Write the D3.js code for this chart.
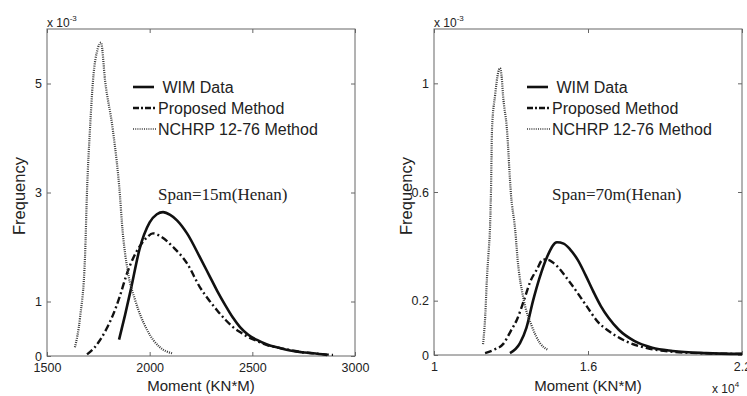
<!DOCTYPE html>
<html>
<head>
<meta charset="utf-8">
<script src="https://cdn.jsdelivr.net/npm/d3@7/dist/d3.min.js"></script>
<style>
  body { margin: 0; background: #fff; }
  svg { display: block; }
</style>
</head>
<body>
<div id="chart-container"></div>
<script>
// Span = 15 m : moment (KN*M) vs frequency (x 1e-3)
const wim15 = [
    [1851, 0.30], [1880, 0.75], [1910, 1.25], [1950, 1.95], [2000, 2.45], [2035, 2.60],
    [2065, 2.64], [2100, 2.59], [2133, 2.49], [2182, 2.25], [2245, 1.81], [2290, 1.48],
    [2328, 1.20], [2370, 0.92], [2406, 0.70], [2440, 0.53], [2480, 0.39], [2525, 0.29],
    [2572, 0.21], [2630, 0.15], [2684, 0.10], [2740, 0.07], [2796, 0.05], [2864, 0.02]
];
const proposed15 = [
    [1695, 0.03], [1730, 0.15], [1758, 0.29], [1790, 0.50], [1821, 0.75], [1855, 1.10],
    [1890, 1.52], [1920, 1.80], [1953, 2.02], [1985, 2.17], [2016, 2.25], [2060, 2.18],
    [2114, 2.00], [2182, 1.70], [2245, 1.26], [2290, 1.02], [2328, 0.84], [2370, 0.66],
    [2406, 0.53], [2440, 0.44], [2474, 0.36], [2520, 0.28], [2572, 0.20], [2630, 0.15],
    [2684, 0.11], [2740, 0.07], [2796, 0.05], [2850, 0.03], [2893, 0.02]
];
const nchrp15 = [
    [1636, 0.16], [1661, 0.71], [1685, 1.81], [1695, 3.04], [1709, 4.14], [1724, 5.05],
    [1748, 5.65], [1763, 5.75], [1783, 5.05], [1821, 4.14], [1856, 2.91], [1865, 2.44],
    [1895, 1.52], [1929, 1.03], [1987, 0.48], [2050, 0.16], [2109, 0.05]
];

// Span = 70 m : moment (x 1e4 KN*M) vs frequency (x 1e-3)
const wim70 = [
    [1.296, 0.007], [1.335, 0.044], [1.360, 0.10], [1.386, 0.20], [1.410, 0.28], [1.440, 0.36],
    [1.479, 0.415], [1.505, 0.41], [1.530, 0.389], [1.560, 0.35], [1.590, 0.295], [1.620, 0.235],
    [1.650, 0.18], [1.680, 0.137], [1.720, 0.093], [1.780, 0.052], [1.850, 0.027], [1.930, 0.015],
    [2.060, 0.007], [2.200, 0.004]
];
const proposed70 = [
    [1.199, 0.007], [1.235, 0.02], [1.269, 0.04], [1.300, 0.09], [1.323, 0.13], [1.350, 0.20],
    [1.375, 0.27], [1.401, 0.315], [1.425, 0.352], [1.445, 0.35], [1.464, 0.34], [1.530, 0.267],
    [1.596, 0.178], [1.640, 0.12], [1.674, 0.093], [1.736, 0.056], [1.830, 0.025], [1.930, 0.012],
    [2.060, 0.006], [2.200, 0.004]
];
const nchrp70 = [
    [1.191, 0.04], [1.200, 0.15], [1.206, 0.278], [1.212, 0.37], [1.218, 0.463], [1.222, 0.60],
    [1.226, 0.833], [1.238, 0.956], [1.250, 1.04], [1.257, 1.056], [1.264, 1.02], [1.269, 0.956],
    [1.284, 0.833], [1.300, 0.59], [1.316, 0.463], [1.327, 0.34], [1.347, 0.215], [1.382, 0.104],
    [1.413, 0.044], [1.444, 0.019]
];

// axis ticks
const xTicks15 = [1500, 2000, 2500, 3000];
const yTicks15 = [0, 1, 3, 5];
const xTicks70 = [1, 1.6, 2.2];
const yTicks70 = [0, 0.2, 0.6, 1];

const legendLabels = [" WIM Data", "Proposed Method", "NCHRP 12-76 Method"];

const W = 747, H = 396;
const sans = "'Liberation Sans', Arial, sans-serif";
const serif = "'Liberation Serif', 'Times New Roman', serif";

const svg = d3.select("#chart-container")
    .append("svg")
    .attr("width", W)
    .attr("height", H);

const styles = [
    { color: "#111", width: 2.6, dash: null },
    { color: "#111", width: 2.4, dash: "7,3,2,3" },
    { color: "#3a3a3a", width: 2.2, dash: "1,1.2" }
];

function drawPanel(p) {
    const x = d3.scaleLinear().domain(p.xDomain).range([p.left, p.right]);
    const y = d3.scaleLinear().domain(p.yDomain).range([p.bottom, p.top]);
    const g = svg.append("g");

    // box
    g.append("rect")
        .attr("x", p.left).attr("y", p.top)
        .attr("width", p.right - p.left).attr("height", p.bottom - p.top)
        .attr("fill", "none").attr("stroke", "#666").attr("stroke-width", 1);

    const fmt = d => String(d);

    g.append("g")
        .attr("transform", "translate(0," + p.bottom + ")")
        .call(d3.axisBottom(x).tickValues(p.xTicks).tickSize(-4).tickPadding(7).tickFormat(fmt));
    g.append("g")
        .attr("transform", "translate(" + p.left + ",0)")
        .call(d3.axisLeft(y).tickValues(p.yTicks).tickSize(-4).tickPadding(5).tickFormat(fmt));
    g.append("g")
        .attr("transform", "translate(0," + p.top + ")")
        .call(d3.axisTop(x).tickValues(p.xTicks).tickSize(-4).tickFormat(""));
    g.append("g")
        .attr("transform", "translate(" + p.right + ",0)")
        .call(d3.axisRight(y).tickValues(p.yTicks).tickSize(-4).tickFormat(""));

    g.selectAll(".domain").remove();
    g.selectAll(".tick line").attr("stroke", "#666");
    g.selectAll(".tick text")
        .attr("font-family", sans).attr("font-size", 12.5).attr("fill", "#222");

    // curves
    const line = d3.line()
        .x(d => x(d[0]))
        .y(d => y(d[1]))
        .curve(d3.curveMonotoneX);

    p.series.forEach((s, i) => {
        g.append("path")
            .datum(s)
            .attr("d", line)
            .attr("fill", "none")
            .attr("stroke", styles[i].color)
            .attr("stroke-width", styles[i].width)
            .attr("stroke-dasharray", styles[i].dash)
            .attr("stroke-linejoin", "round");
    });

    // exponent label on y axis
    const ex = g.append("text")
        .attr("x", p.left).attr("y", 27)
        .attr("font-family", sans).attr("font-size", 12).attr("fill", "#222");
    ex.append("tspan").text("x 10");
    ex.append("tspan").attr("font-size", 8).attr("dy", -6).text("-3");

    // axis titles
    g.append("text")
        .attr("x", (p.left + p.right) / 2).attr("y", 391)
        .attr("text-anchor", "middle")
        .attr("font-family", sans).attr("font-size", 15).attr("fill", "#222")
        .text("Moment (KN*M)");
    g.append("text")
        .attr("transform", "translate(" + (p.left - 22) + "," + 196 + ") rotate(-90)")
        .attr("text-anchor", "middle")
        .attr("font-family", sans).attr("font-size", 16.5).attr("fill", "#222")
        .text("Frequency");

    // legend
    legendLabels.forEach((lab, i) => {
        const ly = 87 + i * 21;
        g.append("line")
            .attr("x1", p.legendX).attr("x2", p.legendX + (i === 0 ? 21 : 24))
            .attr("y1", ly).attr("y2", ly)
            .attr("stroke", styles[i].color)
            .attr("stroke-width", i === 2 ? 1.6 : styles[i].width)
            .attr("stroke-dasharray", i === 1 ? "6,2,2,2" : styles[i].dash);
        g.append("text")
            .attr("x", p.legendX + 25).attr("y", ly + 6)
            .attr("font-family", sans).attr("font-size", 16).attr("fill", "#222")
            .attr("xml:space", "preserve")
            .style("white-space", "pre")
            .text(lab);
    });

    // span annotation
    g.append("text")
        .attr("x", p.legendX + 25).attr("y", 200)
        .attr("font-family", serif).attr("font-size", 17).attr("fill", "#222")
        .text(p.span);

    return g;
}

drawPanel({
    left: 47, right: 355, top: 29, bottom: 356,
    xDomain: [1500, 3000], yDomain: [0, 6],
    xTicks: xTicks15, yTicks: yTicks15,
    series: [wim15, proposed15, nchrp15],
    legendX: 133, span: "Span=15m(Henan)"
});

drawPanel({
    left: 434, right: 742, top: 29, bottom: 355,
    xDomain: [1, 2.2], yDomain: [0, 1.2],
    xTicks: xTicks70, yTicks: yTicks70,
    series: [wim70, proposed70, nchrp70],
    legendX: 527, span: "Span=70m(Henan)"
});

// x axis exponent on the right panel
const ex4 = svg.append("text")
    .attr("x", 712).attr("y", 393)
    .attr("font-family", sans).attr("font-size", 12).attr("fill", "#222");
ex4.append("tspan").text("x 10");
ex4.append("tspan").attr("font-size", 8).attr("dy", -6).text("4");
</script>
</body>
</html>
